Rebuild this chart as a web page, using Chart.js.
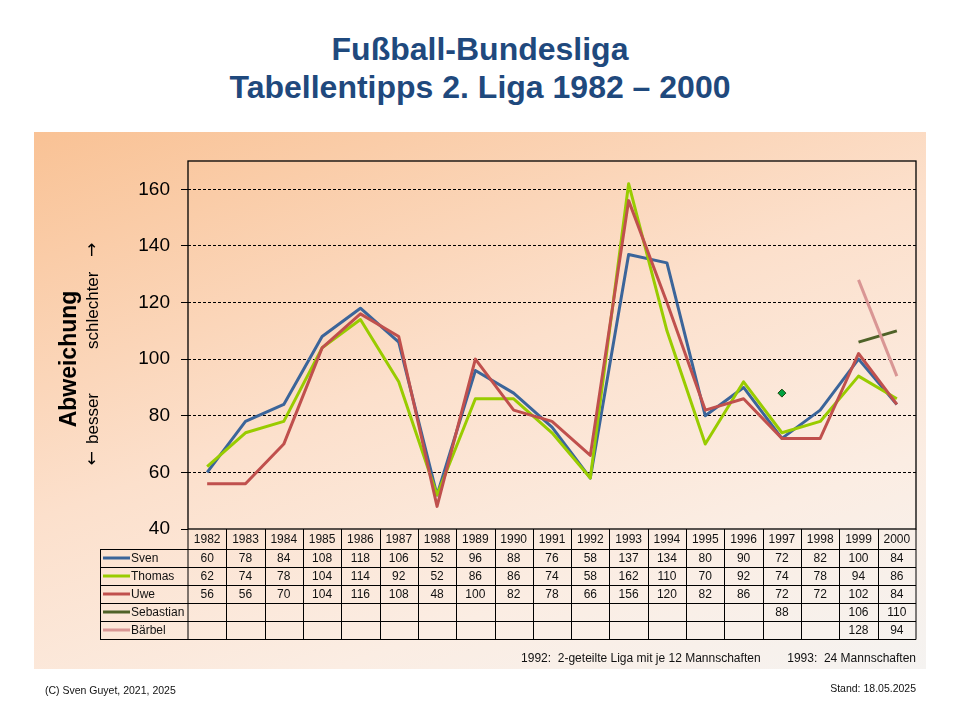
<!DOCTYPE html>
<html>
<head>
<meta charset="utf-8">
<script src="https://cdn.jsdelivr.net/npm/chart.js@4"></script>
<style>
  html, body { margin: 0; padding: 0; background: #fff; }
  body { width: 960px; height: 720px; position: relative; overflow: hidden;
         font-family: "Liberation Sans", Arial, sans-serif; }
  #title { position: absolute; left: 0; top: 30px; width: 960px; text-align: center;
           color: #1F497D; font-weight: bold; font-size: 32px; line-height: 38px; }
  #panel { position: absolute; left: 34px; top: 132px; width: 892px; height: 537px;
           background: linear-gradient(160deg, #F9C295 0%, #FCE0CC 45%, #FBEDE3 75%, #F5F3F1 100%); }
  #wrap { position: absolute; left: 0; top: 0; width: 960px; height: 720px; }
  .note { position: absolute; font-size: 12px; color: #111; white-space: pre; }
</style>
</head>
<body>
<div id="title">Fußball-Bundesliga<br>Tabellentipps 2. Liga 1982 – 2000</div>
<div id="panel"></div>
<div id="wrap"><canvas id="chart" width="960" height="720"></canvas></div>
<div class="note" style="right:44px; top:651px;">1992:  2-geteilte Liga mit je 12 Mannschaften        1993:  24 Mannschaften</div>
<div class="note" style="left:45px; top:684px; font-size:10.5px;">(C) Sven Guyet, 2021, 2025</div>
<div class="note" style="right:44px; top:682px; font-size:10.5px;">Stand: 18.05.2025</div>
<script>
// Tabellentipps 2. Liga - Abweichung je Saison

const years = ['1982', '1983', '1984', '1985', '1986', '1987', '1988', '1989', '1990', '1991',
               '1992', '1993', '1994', '1995', '1996', '1997', '1998', '1999', '2000'];
const sven      = [60, 78, 84, 108, 118, 106, 52, 96, 88, 76, 58, 137, 134, 80, 90, 72, 82, 100, 84];
const thomas    = [62, 74, 78, 104, 114, 92, 52, 86, 86, 74, 58, 162, 110, 70, 92, 74, 78, 94, 86];
const uwe       = [56, 56, 70, 104, 116, 108, 48, 100, 82, 78, 66, 156, 120, 82, 86, 72, 72, 102, 84];
const sebastian = [null, null, null, null, null, null, null, null, null, null,
                   null, null, null, null, null, 88, null, 106, 110];
const baerbel   = [null, null, null, null, null, null, null, null, null, null,
                   null, null, null, null, null, null, null, 128, 94];
const yTicks = [40, 60, 80, 100, 120, 140, 160];

const series = [
    { label: 'Sven', data: sven, color: '#3B659A' },
    { label: 'Thomas', data: thomas, color: '#99CC00' },
    { label: 'Uwe', data: uwe, color: '#C0504D' },
    { label: 'Sebastian', data: sebastian, color: '#4F6228' },
    { label: 'Bärbel', data: baerbel, color: '#D99694' }
];

// Datentabelle unter dem Diagramm + Rahmen + Achsentitel
const tablePlugin = {
    id: 'dataTable',
    afterDraw(chart) {
        const ctx = chart.ctx;
        const area = chart.chartArea;
        const x = chart.scales.x;
        const step = x.getPixelForValue(1) - x.getPixelForValue(0);
        const headerH = 20, rowH = 18, legendLeft = 100;
        const top = area.bottom;
        const bottom = top + headerH + rowH * series.length;

        ctx.save();
        ctx.strokeStyle = '#000';

        // Plot-Rahmen
        ctx.lineWidth = 1.3;
        ctx.strokeRect(area.left, area.top, area.right - area.left, area.bottom - area.top);
        ctx.lineWidth = 1;

        // Tabellenlinien
        ctx.beginPath();
        ctx.moveTo(area.left, bottom + 0.5);
        ctx.lineTo(area.left, top);
        ctx.moveTo(area.right, bottom + 0.5);
        ctx.lineTo(area.right, top);
        for (let i = 1; i < years.length; i++) {
            const bx = Math.round(area.left + step * i) + 0.5;
            ctx.moveTo(bx, top);
            ctx.lineTo(bx, bottom);
        }
        ctx.moveTo(legendLeft + 0.5, top + headerH);
        ctx.lineTo(legendLeft + 0.5, bottom);
        for (let r = 0; r <= series.length; r++) {
            const ry = Math.round(top + headerH + rowH * r) + 0.5;
            ctx.moveTo(legendLeft, ry);
            ctx.lineTo(area.right, ry);
        }
        ctx.stroke();

        // Texte
        ctx.fillStyle = '#111';
        ctx.font = '12px "Liberation Sans", Arial, sans-serif';
        ctx.textAlign = 'center';
        ctx.textBaseline = 'middle';
        years.forEach((yr, i) => {
            ctx.fillText(yr, x.getPixelForValue(i), top + headerH / 2 + 1);
        });
        series.forEach((s, r) => {
            const cy = top + headerH + rowH * r + rowH / 2 + 1;
            s.data.forEach((v, i) => {
                if (v !== null) ctx.fillText(String(v), x.getPixelForValue(i), cy);
            });
            ctx.strokeStyle = s.color;
            ctx.lineWidth = 3;
            ctx.beginPath();
            ctx.moveTo(legendLeft + 3, cy - 1);
            ctx.lineTo(legendLeft + 30, cy - 1);
            ctx.stroke();
            ctx.textAlign = 'left';
            ctx.fillText(s.label, legendLeft + 31, cy);
            ctx.textAlign = 'center';
        });

        // Achsentitel
        const midY = 359;
        ctx.save();
        ctx.translate(70, midY);
        ctx.rotate(-Math.PI / 2);
        ctx.fillStyle = '#000';
        ctx.font = 'bold 23px "Liberation Sans", Arial, sans-serif';
        ctx.textAlign = 'center';
        ctx.fillText('Abweichung', 0, 0);
        ctx.restore();

        ctx.save();
        ctx.translate(93, midY);
        ctx.rotate(-Math.PI / 2);
        ctx.fillStyle = '#000';
        ctx.font = '17px "DejaVu Sans", "Liberation Sans", sans-serif';
        ctx.textBaseline = 'middle';
        ctx.textAlign = 'right';
        ctx.fillText('←', -92, 0);
        ctx.textAlign = 'left';
        ctx.fillText('→', 102, 0);
        ctx.font = '17px "Liberation Sans", Arial, sans-serif';
        ctx.textAlign = 'right';
        ctx.fillText('besser', -34, 0);
        ctx.textAlign = 'left';
        ctx.fillText('schlechter', 10, 0);
        ctx.restore();

        ctx.restore();
    }
};

const ctx = document.getElementById('chart').getContext('2d');
new Chart(ctx, {
    type: 'line',
    data: {
        labels: years,
        datasets: series.map((s, idx) => ({
            label: s.label,
            data: s.data,
            borderColor: s.color,
            backgroundColor: s.label === 'Sebastian' ? '#00A040' : s.color,
            borderWidth: 3,
            borderJoinStyle: 'round',
            tension: 0,
            spanGaps: false,
            pointRadius: s.label === 'Sebastian' ? s.data.map((v, i) => (i === 15 ? 4 : 0)) : 0,
            pointStyle: 'rectRot',
            pointBorderColor: '#1E4A10',
            pointBorderWidth: 1,
            order: series.length - idx
        }))
    },
    options: {
        responsive: false,
        animation: false,
        layout: { padding: { left: 100, right: 44, top: 161, bottom: 191 } },
        plugins: { legend: { display: false }, tooltip: { enabled: false } },
        scales: {
            x: { type: 'category', offset: true, display: false },
            y: {
                min: 40,
                max: 170,
                afterFit(scale) { scale.width = 88; },
                afterBuildTicks(scale) {
                    scale.ticks = yTicks.map(v => ({ value: v }));
                },
                ticks: {
                    color: '#000',
                    padding: 11,
                    font: { size: 19, family: '"Liberation Sans", Arial, sans-serif' }
                },
                grid: {
                    color: (c) => (c.tick && c.tick.value === 40 ? 'rgba(0,0,0,0)' : '#000'),
                    lineWidth: 1,
                    tickLength: 7,
                    tickColor: '#000',
                    tickBorderDash: []
                },
                border: { display: false, dash: [3, 2] }
            }
        }
    },
    plugins: [tablePlugin]
});
</script>
</body>
</html>
